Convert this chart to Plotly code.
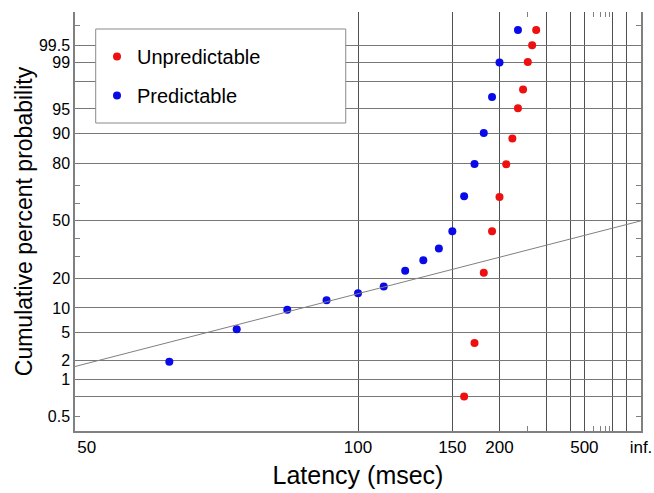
import plotly.graph_objects as go
from statistics import NormalDist

# ---------------- data ----------------
pred_latency = [60, 70, 80, 90, 100, 110, 120, 130, 140, 150, 160, 170, 180, 190, 200, 230]
pred_cum_pct = [1.92, 5.55, 9.58, 12.14, 14.34, 16.74, 23.1, 28.16, 34.23, 43.96,
                64.14, 79.86, 90.19, 96.57, 99.0, 99.75]

unpred_latency = [160, 170, 180, 190, 200, 210, 220, 230, 240, 250, 260, 270]
unpred_cum_pct = [0.49, 3.62, 22.25, 43.96, 63.75, 79.74, 88.68, 95.1, 97.32, 99.02, 99.51, 99.75]

fit_latency = [50, float("inf")]
fit_cum_pct = [1.61, 50.0]

x_tick_latency = [50, 100, 150, 200, 500, float("inf")]
x_tick_text = ["\u00a0\u00a0\u00a0\u00a0\u00a050", "100", "150", "200", "500", "inf."]
x_grid_latency = [100, 150, 200, 300, 400, 500, 1000, 2000]
x_minor_latency = [250, 600, 700, 800, 900]

y_tick_pct = [0.2, 1, 2, 5, 10, 20, 50, 80, 90, 95, 99, 99.5]
y_tick_text = ["0.5", "1", "2", "5", "10", "20", "50", "80", "90", "95", "99", "99.5"]
y_grid_pct = [0.5, 1, 2, 5, 10, 20, 50, 80, 90, 95, 98, 99, 99.5]
y_minor_pct = [0.2, 30, 40, 60, 70, 99.8]

# ---------------- scales ----------------
ND = NormalDist()


def recip(t):
    return -1000.0 / t


def probit(p):
    return ND.inv_cdf(p / 100.0)


XR = [-20, 0]
YR = [-3.09, 3.07]
FONT = "Liberation Sans, Arial, Helvetica, sans-serif"
GRID_X = "#505050"
GRID_Y = "#777777"
AXLINE = "#808080"

fig = go.Figure()

fig.add_trace(go.Scatter(
    x=[recip(t) for t in fit_latency], y=[probit(p) for p in fit_cum_pct],
    mode="lines", line=dict(color="#808080", width=1),
    showlegend=False, hoverinfo="skip", xaxis="x2", yaxis="y2"))

fig.add_trace(go.Scatter(
    x=[recip(t) for t in unpred_latency], y=[probit(p) for p in unpred_cum_pct],
    mode="markers", name="Unpredictable", legendgroup="u",
    marker=dict(color="rgb(238,16,16)", size=8, line=dict(width=0))))

fig.add_trace(go.Scatter(
    x=[recip(t) for t in pred_latency], y=[probit(p) for p in pred_cum_pct],
    mode="markers", name="Predictable", legendgroup="p",
    marker=dict(color="rgb(10,10,232)", size=8, line=dict(width=0))))

minor_x = dict(tickmode="array", tickvals=[recip(t) for t in x_minor_latency],
               ticks="inside", ticklen=5, tickcolor=AXLINE, tickwidth=1, showgrid=False)
minor_y = dict(tickmode="array", tickvals=[probit(p) for p in y_minor_pct],
               ticks="inside", ticklen=5, tickcolor=AXLINE, tickwidth=1, showgrid=False)

fig.update_layout(
    width=654, height=493,
    margin=dict(l=75, r=13, t=12, b=62, autoexpand=False),
    paper_bgcolor="white", plot_bgcolor="white",
    font=dict(family=FONT, color="black"),
    xaxis=dict(
        range=XR, tickmode="array", automargin=False,
        tickvals=[recip(t) for t in x_tick_latency], ticktext=x_tick_text,
        ticks="", showgrid=False, zeroline=False, ticklabeloverflow="allow",
        showline=True, linecolor=AXLINE, linewidth=1.5,
        tickfont=dict(size=17),
        title=dict(text="Latency (msec)", font=dict(size=25), standoff=10),
        minor=minor_x),
    xaxis2=dict(
        range=XR, overlaying="x", anchor="y2", side="top", automargin=False,
        tickmode="array", tickvals=[recip(t) for t in x_grid_latency],
        showgrid=True, gridcolor=GRID_X, gridwidth=1,
        ticks="", showticklabels=False, zeroline=False, showline=False,
        minor=minor_x),
    yaxis=dict(
        range=YR, tickmode="array", automargin=False,
        tickvals=[probit(p) for p in y_tick_pct], ticktext=y_tick_text,
        ticks="", showgrid=False, zeroline=False,
        showline=True, linecolor=AXLINE, linewidth=1.5,
        tickfont=dict(size=16),
        title=dict(text="Cumulative percent probability", font=dict(size=23), standoff=0),
        minor=minor_y),
    yaxis2=dict(
        range=YR, overlaying="y", anchor="x2", side="right", automargin=False,
        tickmode="array", tickvals=[probit(p) for p in y_grid_pct],
        showgrid=True, gridcolor=GRID_Y, gridwidth=1,
        ticks="", showticklabels=False, zeroline=False,
        showline=True, linecolor=AXLINE, linewidth=1.5,
        minor=minor_y),
    legend=dict(
        x=(97 - 75) / 566, xanchor="left",
        y=(431 - 37) / 419, yanchor="top",
        bgcolor="rgba(0,0,0,0)", borderwidth=0,
        font=dict(size=20), tracegroupgap=10, itemwidth=30),
    shapes=[dict(type="rect", xref="paper", yref="paper",
                 x0=(96 - 75.3) / 565.9, x1=(346 - 75.3) / 565.9,
                 y0=(431 - 123) / 419, y1=(431 - 29) / 419,
                 line=dict(color="#8a8a8a", width=1), fillcolor="white", layer="above")],
)

fig.write_html("out.html", config={"displayModeBar": False},
               post_script="document.body.style.margin='0';")
